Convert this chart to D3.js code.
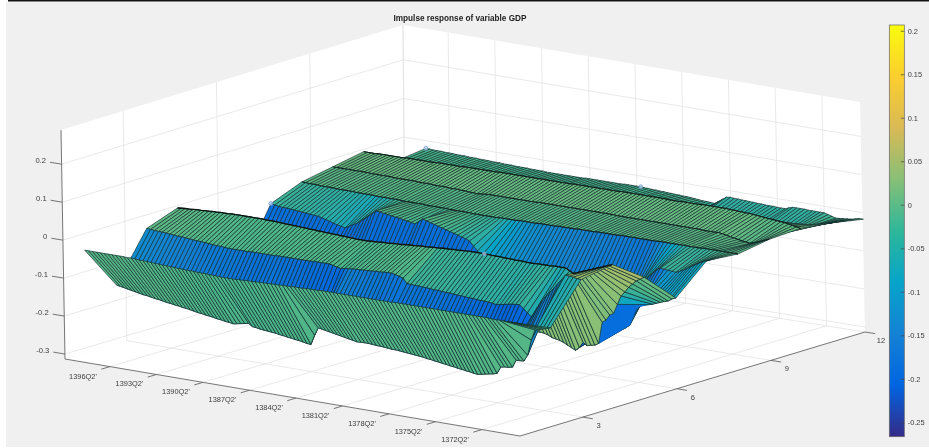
<!DOCTYPE html>
<html><head><meta charset="utf-8">
<script src="https://cdn.jsdelivr.net/npm/d3@7/dist/d3.min.js"></script>
<style>html,body{margin:0;padding:0;background:#fff}svg{display:block;filter:blur(.4px)}text{font-family:"Liberation Sans",Arial,sans-serif;fill:#3c3c3c}</style>
</head><body><svg id="c" width="929" height="448"></svg>
<script>
// ----- data -----
const title = "Impulse response of variable GDP";
const timeTickValues = [1396.25,1393.25,1390.25,1387.25,1384.25,1381.25,1378.25,1375.25,1372.25];
const timeTickLabels = ["1396Q2'","1393Q2'","1390Q2'","1387Q2'","1384Q2'","1381Q2'","1378Q2'","1375Q2'","1372Q2'"];
const horizonTicks = [3,6,9,12];
const zTicks = [-0.3,-0.2,-0.1,0,0.1,0.2];
const zTickLabels = ["-0.3","-0.2","-0.1","0","0.1","0.2"];
const colorTicks = [-0.25,-0.2,-0.15,-0.1,-0.05,0,0.05,0.1,0.15,0.2];
const parula = ["#352a87","#0265e1","#1482d4","#06a4ca","#2eb799","#87bf77","#d9ba56","#fcce2e","#f9fb0e"];
const surfaceRamp = ["#352a87","#0265e1","#1482d4","#06a4ca","#4ab489","#87bf77","#d9ba56","#fcce2e","#f9fb0e"];
const quarterStart = 1397.75, quarterStep = -0.25; // first column 1397Q4, going back one quarter per column
const h1 = [-.017,-.017,-.017,-.017,-.017,-.017,-.017,-.017,-.017,-.017,
-.017,-.018,-.017,-.018,-.019,-.019,-.020,-.020,-.021,-.021,
-.022,-.022,-.023,-.023,-.024,-.024,-.025,-.025,-.025,-.026,
-.026,-.026,-.027,-.027,-.027,-.028,-.028,-.028,-.028,-.028,
-.027,-.027,-.026,-.026,-.026,-.025,-.025,-.025,-.024,-.024,
-.024,-.023,-.023,-.023,-.022,-.022,-.022,-.021,-.021,-.021,
-.021,-.020,-.020,-.020,-.020,-.020,-.020,-.020,-.020,-.020,
-.020,-.020,-.020,-.020,-.020,-.020,-.020,-.020,-.020,-.020,
-.019,-.019,-.019,-.019,-.019,-.019,-.019,-.019,-.019,-.019,
-.019,-.019,-.019,-.019,-.019,-.019,-.019,-.019,-.019,-.019,
-.019,-.019,-.019,-.019,-.019,-.020,-.020,-.020,-.020,-.020,
-.020,-.020,-.020];
const h2 = [-.133,-.135,-.137,-.139,-.141,-.143,-.145,-.147,-.148,-.150,
-.152,-.153,-.155,-.157,-.158,-.160,-.161,-.163,-.164,-.166,
-.168,-.170,-.171,-.173,-.174,-.176,-.178,-.179,-.181,-.182,
-.184,-.182,-.180,-.178,-.176,-.183,-.184,-.186,-.187,-.188,
-.189,-.190,-.192,-.193,-.195,-.196,-.198,-.199,-.201,-.203,
-.204,-.178,-.157,-.159,-.161,-.163,-.165,-.167,-.169,-.171,
-.173,-.175,-.177,-.176,-.176,-.176,-.177,-.178,-.178,-.179,
-.180,-.181,-.181,-.182,-.183,-.184,-.185,-.186,-.187,-.188,
-.190,-.191,-.193,-.194,-.196,-.197,-.199,-.200,-.202,-.203,
-.205,-.206,-.208,-.209,-.207,-.205,-.203,-.201,-.198,-.180,
-.178,-.177,-.175,-.155,-.155,-.154,-.137,-.096,-.068,-.065,
-.062,-.059,-.056];
const h3 = [-.009,-.010,-.011,-.012,-.012,-.013,-.014,-.015,-.016,-.016,
-.017,-.018,-.019,-.020,-.020,-.021,-.022,-.023,-.024,-.024,
-.025,-.026,-.026,-.026,-.026,-.026,-.026,-.025,-.025,-.025,
-.025,-.025,-.025,-.025,-.024,-.024,-.024,-.024,-.024,-.024,
-.024,-.024,-.024,-.023,-.023,-.023,-.023,-.023,-.025,-.028,
-.030,-.028,-.027,-.026,-.025,-.025,-.024,-.024,-.023,-.022,
-.022,-.021,-.020,-.020,-.022,-.025,-.028,-.041,-.041,-.042,
-.042,-.043,-.043,-.044,-.045,-.045,-.046,-.047,-.047,-.048,
-.049,-.049,-.050,-.051,-.051,-.052,-.053,-.053,-.054,-.055,
-.057,-.055,-.053,-.051,-.049,-.048,-.047,-.056,-.065,-.074,
-.058,-.041,-.025,-.013,-.001,.012,.025,.037,.050,.049,
.048,.046,.045];
const h4 = [.020,.021,.022,.022,.023,.024,.024,.025,.025,.026,
.026,.027,.027,.027,.028,.028,.028,.028,.028,.028,
.028,.028,.028,.027,.027,.027,.026,.026,.025,.025,
.024,.024,.023,.023,.022,.022,.021,.021,.020,.020,
.019,.019,.018,.018,.017,.017,.016,.016,.016,.016,
.017,.017,.018,.019,.019,.020,.021,.021,.022,.023,
.024,.024,.025,.026,.026,.027,.028,.028,.029,.030,
.030,.031,.031,.032,.032,.033,.033,.033,.033,.033,
.033,.032,.032,.032,.031,.031,.031,.030,.030,.030,
.029,.029,.029,.030,.030,.030,.030,.031,.031,.031,
.031,.025,.020,.024,.028,.032,.036,.040,.044,.048,
.052,.056,.060];
const h5 = [-.170,-.171,-.172,-.172,-.173,-.174,-.174,-.175,-.175,-.176,
-.176,-.176,-.177,-.177,-.177,-.178,-.178,-.178,-.178,-.178,
-.179,-.179,-.179,-.179,-.179,-.180,-.180,-.180,-.180,-.180,
-.180,-.180,-.181,-.181,-.181,-.181,-.181,-.181,-.181,-.182,
-.182,-.182,-.182,-.182,-.182,-.182,-.182,-.183,-.183,-.183,
-.183,-.183,-.183,-.183,-.183,-.183,-.184,-.184,-.184,-.184,
-.184,-.184,-.184,-.184,-.184,-.185,-.185,-.185,-.185,-.185,
-.185,-.185,-.185,-.185,-.185,-.186,-.186,-.186,-.186,-.186,
-.186,-.186,-.186,-.186,-.186,-.186,-.187,-.190,-.195,-.197,
-.199,-.203,-.208,-.213,-.218,-.209,-.194,-.201,-.198,-.196,
-.190,-.133,-.126,-.111,-.105,-.080,-.056,-.044,-.030,-.020,
-.010,-.004,.003];
const h6 = [-.190,-.190,-.190,-.190,-.190,-.190,-.190,-.191,-.191,-.191,
-.191,-.191,-.191,-.191,-.191,-.192,-.192,-.192,-.192,-.192,
-.192,-.192,-.192,-.192,-.192,-.192,-.192,-.192,-.192,-.192,
-.191,-.191,-.191,-.191,-.191,-.191,-.191,-.191,-.191,-.191,
-.190,-.190,-.190,-.190,-.190,-.190,-.190,-.190,-.190,-.190,
-.190,-.190,-.190,-.190,-.190,-.190,-.190,-.190,-.190,-.190,
-.189,-.189,-.189,-.189,-.189,-.189,-.189,-.189,-.189,-.189,
-.189,-.189,-.189,-.189,-.189,-.189,-.189,-.189,-.189,-.189,
-.188,-.188,-.188,-.188,-.188,-.188,-.188,-.188,-.188,-.188,
-.188,-.188,-.188,-.187,-.187,-.187,-.186,-.185,-.180,-.175,
-.167,-.140,-.114,-.111,-.108,-.105,-.102,-.098,-.094,-.090,
-.087,-.080,-.076];
const h7 = [-.042,-.044,-.046,-.047,-.047,-.048,-.049,-.050,-.051,-.052,
-.053,-.054,-.055,-.057,-.060,-.063,-.066,-.069,-.071,-.074,
-.068,-.062,-.057,-.050,-.042,-.034,-.025,-.016,-.017,-.019,
-.020,-.022,-.024,-.025,-.027,-.029,-.031,-.033,-.025,-.017,
-.020,-.023,-.026,-.029,-.032,-.035,-.038,-.041,-.044,-.047,
-.050,-.054,-.066,-.077,-.088,-.098,-.106,-.112,-.118,-.123,
-.127,-.130,-.132,-.134,-.136,-.138,-.140,-.142,-.143,-.144,
-.146,-.147,-.149,-.150,-.152,-.153,-.154,-.156,-.157,-.158,
-.160,-.161,-.162,-.164,-.165,-.166,-.168,-.170,-.170,-.170,
-.165,-.155,-.140,-.125,-.108,-.090,-.080,-.070,-.060,-.050,
-.043,-.044,-.045,-.046,-.047,-.043,-.038,-.032,-.025,-.019,
-.013,-.008,-.003];
const h8 = [-.010,-.010,-.011,-.011,-.011,-.012,-.012,-.012,-.012,-.013,
-.013,-.013,-.013,-.013,-.014,-.014,-.014,-.014,-.014,-.015,
-.015,-.015,-.015,-.015,-.015,-.015,-.016,-.016,-.016,-.016,
-.016,-.016,-.017,-.017,-.017,-.017,-.017,-.017,-.018,-.018,
-.018,-.018,-.018,-.018,-.019,-.019,-.019,-.019,-.019,-.019,
-.019,-.018,-.018,-.018,-.018,-.018,-.017,-.017,-.017,-.017,
-.017,-.016,-.016,-.016,-.016,-.016,-.015,-.015,-.015,-.015,
-.015,-.014,-.014,-.014,-.014,-.014,-.013,-.013,-.013,-.013,
-.013,-.013,-.012,-.012,-.012,-.012,-.012,-.012,-.012,-.012,
-.012,-.012,-.011,-.011,-.011,-.011,-.011,-.011,-.011,-.011,
-.011,-.011,-.011,-.010,-.010,-.010,-.010,-.010,-.010,-.010,
-.010,-.010,-.010];
const h9 = [.005,.005,.005,.005,.005,.005,.005,.005,.005,.005,
.004,.004,.004,.004,.004,.004,.003,.003,.003,.003,
.003,.003,.002,.002,.002,.002,.001,.001,.001,.001,
.000,.000,.000,-.001,-.001,-.002,-.002,-.003,-.002,-.001,
.000,.000,.000,.000,.000,.000,.000,.000,.000,.000,
.000,.000,.000,.001,.001,.001,.001,.001,.001,.001,
.001,.001,.001,.001,.001,.001,.001,.001,.001,.001,
.001,.001,.001,.000,.000,.000,.000,.000,.000,.000,
.000,.000,.000,.000,.000,.000,.000,.000,.000,.000,
.000,.000,.000,.000,.000,-.001,-.001,-.001,-.001,.000,
-.002,-.004,-.006,-.008,-.010,-.012,-.013,-.015,-.012,-.008,
-.004,.000,.004];
const h10 = [.020,.020,.020,.020,.021,.021,.021,.021,.021,.021,
.021,.022,.022,.022,.022,.022,.022,.022,.022,.023,
.023,.023,.023,.023,.023,.023,.024,.024,.024,.024,
.024,.024,.024,.024,.024,.025,.025,.025,.025,.025,
.025,.025,.025,.025,.025,.025,.025,.025,.025,.025,
.025,.025,.025,.025,.026,.026,.026,.026,.026,.026,
.026,.026,.026,.026,.026,.026,.027,.027,.027,.027,
.027,.027,.027,.027,.027,.027,.027,.027,.026,.026,
.026,.026,.027,.027,.027,.027,.027,.028,.028,.028,
.028,.028,.028,.028,.027,.027,.026,.026,.025,.025,
.024,.023,.022,.021,.020,.019,.018,.017,.016,.014,
.012,.010,.008];
const h11 = [-.030,-.030,-.030,-.030,-.030,-.030,-.030,-.030,-.030,-.030,
-.030,-.030,-.030,-.030,-.030,-.030,-.030,-.030,-.030,-.030,
-.031,-.031,-.031,-.031,-.031,-.031,-.031,-.031,-.031,-.031,
-.031,-.031,-.031,-.031,-.031,-.031,-.031,-.031,-.031,-.031,
-.031,-.031,-.031,-.031,-.031,-.031,-.031,-.031,-.031,-.031,
-.032,-.032,-.032,-.032,-.032,-.032,-.032,-.032,-.032,-.032,
-.032,-.032,-.032,-.032,-.032,-.032,-.032,-.032,-.032,-.032,
-.034,-.036,-.040,-.045,-.050,-.052,-.052,-.052,-.052,-.052,
-.052,-.052,-.052,-.052,-.051,-.051,-.051,-.051,-.051,-.051,
-.051,-.051,-.051,-.050,-.050,-.050,-.050,-.050,-.050,-.050,
-.048,-.044,-.040,-.036,-.032,-.028,-.024,-.020,-.016,-.012,
-.008,-.005,-.002];
const h12 = [-.020,-.020,-.021,-.021,-.021,-.022,-.022,-.022,-.023,-.023,
-.023,-.024,-.024,-.024,-.025,-.025,-.025,-.026,-.026,-.026,
-.027,-.027,-.027,-.028,-.028,-.028,-.028,-.029,-.029,-.029,
-.029,-.030,-.030,-.030,-.030,-.030,-.030,-.030,-.030,-.030,
-.030,-.029,-.029,-.029,-.029,-.029,-.029,-.029,-.029,-.029,
-.029,-.028,-.028,-.028,-.028,-.028,-.029,-.029,-.030,-.030,
-.031,-.031,-.032,-.032,-.033,-.033,-.034,-.034,-.035,-.036,
-.037,-.038,-.038,-.039,-.040,-.032,-.025,-.018,-.017,-.018,
-.018,-.019,-.019,-.020,-.020,-.021,-.021,-.022,-.022,-.022,
-.023,-.023,-.023,-.019,-.016,-.016,-.016,-.016,-.017,-.017,
-.017,-.017,-.017,-.020,-.023,-.026,-.025,-.024,-.023,-.022,
-.020,-.017,-.017];
const rows = [h1,h2,h3,h4,h5,h6,h7,h8,h9,h10,h11,h12];
// single flat-coloured patch of the surface: horizon 5 to 6, columns 100 to 105
const patchHorizon = 5, patchFrom = 100, patchTo = 105, patchValue = -0.19;
// data-tip markers: [horizon, column]
const tipPoints = [[7,0],[12,0],[12,55],[4,79]];
// horizons whose row line reads darker in the picture: [horizon, stroke width]
const darkRows = [[4,1.3],[8,.7],[9,.7],[10,.8]];

// ----- scales -----
const uT = d3.scaleLinear([1399.15,1369.8],[0,1]);
const vH = d3.scaleLinear([1,12],[0,1]);
const wZ = d3.scaleLinear([-0.313,0.29],[0,1]);
const cornersB = {L:[65,359],F:[520,436],R:[865,332],B:[405,258]};
const cornersT = {L:[61,130],F:[516,204],R:[860,102],B:[403,25]};
function project(t,h,z){
  const u=uT(t),v=vH(h),w=wZ(z);
  const q=(C,k)=>(1-u)*(1-v)*C.L[k]+u*(1-v)*C.F[k]+u*v*C.R[k]+(1-u)*v*C.B[k];
  return [0,1].map(k=>(1-w)*q(cornersB,k)+w*q(cornersT,k));
}
const colorScale = d3.scaleLinear().domain(d3.range(surfaceRamp.length).map(i=>-0.2666+i*(0.4732)/(surfaceRamp.length-1))).range(surfaceRamp).interpolate(d3.interpolateRgb);
const timeOf = i => quarterStart + i*quarterStep;
const tMin=1369.8,tMax=1399.15,zMin=-0.313,zMax=0.29;

const svg = d3.select("#c");
const line = d3.line();
svg.append("rect").attr("x",6).attr("y",2).attr("width",923).attr("height",445).attr("fill","#f0f0f0");
svg.append("rect").attr("x",8).attr("y",0).attr("width",921).attr("height",1.5).attr("fill","#111");

// walls and floor
const poly = (pts,fill)=>svg.append("path").attr("d",line(pts)+"Z").attr("fill",fill).attr("stroke","none");
poly([project(tMax,1,zMin),project(tMax,1,zMax),project(tMax,12,zMax),project(tMax,12,zMin)],"#fff");
poly([project(tMax,12,zMin),project(tMax,12,zMax),project(tMin,12,zMax),project(tMin,12,zMin)],"#fff");
poly([project(tMax,1,zMin),project(tMin,1,zMin),project(tMin,12,zMin),project(tMax,12,zMin)],"#fff");
const grid = svg.append("g").attr("fill","none").attr("stroke","#e3e3e3").attr("stroke-width",.8);
const seg = (pts)=>grid.append("path").attr("d",line(pts));
zTicks.forEach(z=>seg([project(tMax,1,z),project(tMax,12,z),project(tMin,12,z)]));
timeTickValues.forEach(t=>seg([project(t,1,zMin),project(t,12,zMin),project(t,12,zMax)]));
horizonTicks.forEach(h=>seg([project(tMin,h,zMin),project(tMax,h,zMin),project(tMax,h,zMax)]));
[project(tMax,12,zMin)].forEach(p=>seg([p,project(tMax,12,zMax)]));

// surface, far bands first
const surf = svg.append("g").attr("stroke-linejoin","round");
const face=(h,i,fill,stroke,w)=>surf.append("path")
  .attr("d",line([project(timeOf(i),h,rows[h-1][i]),project(timeOf(i+1),h,rows[h-1][i+1]),project(timeOf(i+1),h+1,rows[h][i+1]),project(timeOf(i),h+1,rows[h][i])])+"Z")
  .attr("fill",fill).attr("stroke",stroke).attr("stroke-width",w);
for(let h=11;h>=1;h--){
  for(let i=0;i<rows[h-1].length-1;i++){
    const flat = h===patchHorizon && i>=patchFrom && i<patchTo;
    const f = colorScale(flat?patchValue:rows[h-1][i]);
    if(flat) face(h,i,f,f,.6); else face(h,i,f,"#123030",.7);
  }
  const dark = darkRows.find(d=>d[0]===h+1);
  if(dark) surf.append("path").attr("fill","none").attr("stroke","#0a1412").attr("stroke-width",dark[1])
    .attr("d",line(rows[h].map((z,i)=>project(timeOf(i),h+1,z))));
}
// data tips
svg.append("g").selectAll("circle").data(tipPoints).join("circle")
  .attr("cx",d=>project(timeOf(d[1]),d[0],rows[d[0]-1][d[1]])[0])
  .attr("cy",d=>project(timeOf(d[1]),d[0],rows[d[0]-1][d[1]])[1])
  .attr("r",2).attr("fill","#bcd6ee").attr("fill-opacity",.7).attr("stroke","#5f8fd0").attr("stroke-width",.7);

// axes
const ax = svg.append("g").attr("fill","none").attr("stroke","#666").attr("stroke-width",.9);
ax.append("path").attr("d",line([project(tMax,1,zMax),project(tMax,1,zMin),project(tMin,1,zMin),project(tMin,12,zMin)]));
const txt=(x,y,s,anchor,size,weight)=>svg.append("text").attr("x",x).attr("y",y).attr("text-anchor",anchor).attr("dominant-baseline","middle").attr("font-size",size).attr("font-weight",weight||"normal").text(s);
timeTickValues.forEach((t,k)=>{
  const p=project(t,1,zMin),q=project(t,0.72,zMin);
  ax.append("path").attr("d",line([p,q]));
  txt(p[0]-27,p[1]+10,timeTickLabels[k],"middle",7.4);
});
horizonTicks.forEach(h=>{
  const p=project(tMin,h,zMin),q=project(tMin-0.65,h,zMin);
  ax.append("path").attr("d",line([p,q]));
  txt(p[0]+16,p[1]+9,String(h),"middle",7.6);
});
zTicks.forEach((z,k)=>{
  const p=project(tMax,1,z),q=project(tMax+0.75,1,z);
  ax.append("path").attr("d",line([p,q]));
  txt(q[0]-4,q[1]-1,zTickLabels[k],"end",7.6);
});

// title
txt(460,18.5,title,"middle",8.2,"bold").style("fill","#222");

// colorbar
const cbY = d3.scaleLinear([-0.2666,0.2066],[436.7,25]);
const defs = svg.append("defs");
const grad = defs.append("linearGradient").attr("id","pb").attr("x1",0).attr("x2",0).attr("y1",1).attr("y2",0);
parula.forEach((c,i)=>grad.append("stop").attr("offset",i/(parula.length-1)).attr("stop-color",c));
svg.append("rect").attr("x",889.3).attr("y",25).attr("width",15).attr("height",411.7).attr("fill","url(#pb)").attr("stroke","#666").attr("stroke-width",.7);
const cb = svg.append("g").attr("transform","translate(904.3,0)")
  .call(d3.axisRight(cbY).tickValues(colorTicks).tickSizeInner(-3.5).tickSizeOuter(0).tickPadding(3.4).tickFormat(d=>String(d)));
cb.select(".domain").remove();
cb.selectAll("line").attr("stroke","#444").attr("stroke-width",.7);
cb.selectAll("text").attr("font-size",7.4).attr("font-family","Liberation Sans");
</script></body></html>
